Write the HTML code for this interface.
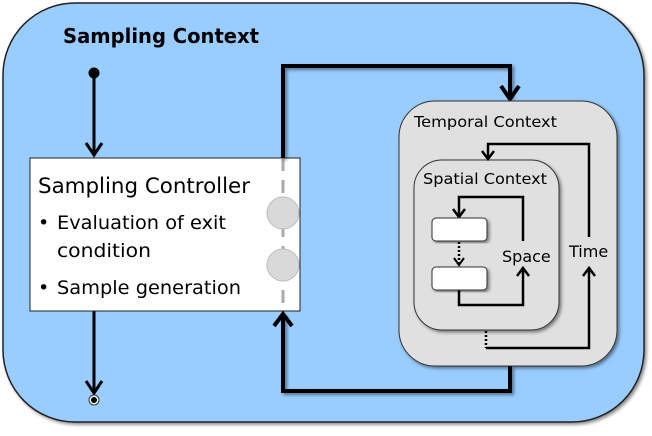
<!DOCTYPE html>
<html><head><style>
body{margin:0;background:#fff}
text{font-family:"DejaVu Sans","Liberation Sans",sans-serif}
</style></head><body>
<svg width="652" height="431" viewBox="0 0 652 431">
<defs>
<filter id="sh" x="-5%" y="-5%" width="115%" height="115%"><feDropShadow dx="2" dy="2" stdDeviation="1.5" flood-opacity="0.45"/></filter>
</defs>
<rect x="3" y="3" width="641" height="419" rx="72" fill="#99ccff" stroke="#222" stroke-width="1.5" filter="url(#sh)"/>
<text x="63" y="43" font-weight="bold" font-size="20" fill="#000" textLength="196" lengthAdjust="spacingAndGlyphs">Sampling Context</text>
<circle cx="94" cy="73" r="5.5" fill="#000"/>
<line x1="94" y1="73" x2="94" y2="155" stroke="#000" stroke-width="3"/>
<polyline points="86,143 94,155 102,143" fill="none" stroke="#000" stroke-width="3"/>
<line x1="94" y1="311" x2="94" y2="392" stroke="#000" stroke-width="3"/>
<polyline points="86,381 94,393 102,381" fill="none" stroke="#000" stroke-width="3"/>
<circle cx="94" cy="400" r="5" fill="#fff" stroke="#333" stroke-width="1"/>
<circle cx="94" cy="400" r="3" fill="#000"/>
<rect x="30" y="158" width="270" height="153" fill="#fff" stroke="#222" stroke-width="1"/>
<text x="38" y="193" font-size="21" fill="#000" textLength="212" lengthAdjust="spacingAndGlyphs">Sampling Controller</text>
<text x="38" y="229" font-size="19">•</text>
<text x="57" y="229" font-size="19" textLength="169" lengthAdjust="spacingAndGlyphs">Evaluation of exit</text>
<text x="57" y="257" font-size="19" textLength="94" lengthAdjust="spacingAndGlyphs">condition</text>
<text x="38" y="294" font-size="19">•</text>
<text x="57" y="294" font-size="19" textLength="184" lengthAdjust="spacingAndGlyphs">Sample generation</text>
<line x1="283" y1="158" x2="283" y2="311" stroke="#aaa" stroke-width="3" stroke-dasharray="13,9"/>
<circle cx="283" cy="213" r="16" fill="#d9d9d9" stroke="#bbb"/>
<circle cx="283" cy="265" r="16" fill="#d9d9d9" stroke="#bbb"/>
<polyline points="283,158 283,66 510,66 510,98" fill="none" stroke="#000" stroke-width="4" filter="url(#sh)"/>
<polyline points="501,86 510,99 519,86" fill="none" stroke="#000" stroke-width="4"/>
<polyline points="510,366 510,391 283,391 283,314" fill="none" stroke="#000" stroke-width="4" filter="url(#sh)"/>
<polyline points="274,326 283,314 292,326" fill="none" stroke="#000" stroke-width="4"/>
<rect x="399" y="101" width="218" height="265" rx="36" fill="#e0e0e0" stroke="#333" stroke-width="1" filter="url(#sh)"/>
<text x="414" y="127" font-size="15" textLength="143" lengthAdjust="spacingAndGlyphs">Temporal Context</text>
<rect x="414" y="160" width="145" height="170" rx="28" fill="#e0e0e0" stroke="#333" stroke-width="1" filter="url(#sh)"/>
<text x="423" y="184" font-size="15" textLength="124" lengthAdjust="spacingAndGlyphs">Spatial Context</text>
<polyline points="589,237 589,144 488,144 488,158" fill="none" stroke="#000" stroke-width="2.5"/>
<polyline points="482,151 488,159 494,151" fill="none" stroke="#000" stroke-width="2.5"/>
<text x="569" y="257" font-size="16">Time</text>
<polyline points="486,348 589,348 589,268" fill="none" stroke="#000" stroke-width="2.5"/>
<polyline points="583,276 589,268 595,276" fill="none" stroke="#000" stroke-width="2.5"/>
<line x1="486" y1="331" x2="486" y2="348" stroke="#000" stroke-width="2.5" stroke-dasharray="2,2"/>
<polyline points="523,241 523,197 459,197 459,216" fill="none" stroke="#000" stroke-width="2.5"/>
<polyline points="453,209 459,217 465,209" fill="none" stroke="#000" stroke-width="2.5"/>
<text x="502" y="262" font-size="16">Space</text>
<polyline points="459,290 459,305 523,305 523,268" fill="none" stroke="#000" stroke-width="2.5"/>
<polyline points="517,276 523,268 529,276" fill="none" stroke="#000" stroke-width="2.5"/>
<line x1="459" y1="242" x2="459" y2="265" stroke="#000" stroke-width="2.5" stroke-dasharray="2,2"/>
<polyline points="454,258 459,265 464,258" fill="none" stroke="#000" stroke-width="2"/>
<rect x="432" y="218" width="55" height="23" rx="4" fill="#fff" stroke="#333" filter="url(#sh)"/>
<rect x="432" y="267" width="55" height="23" rx="4" fill="#fff" stroke="#333" filter="url(#sh)"/>
</svg>
</body></html>
